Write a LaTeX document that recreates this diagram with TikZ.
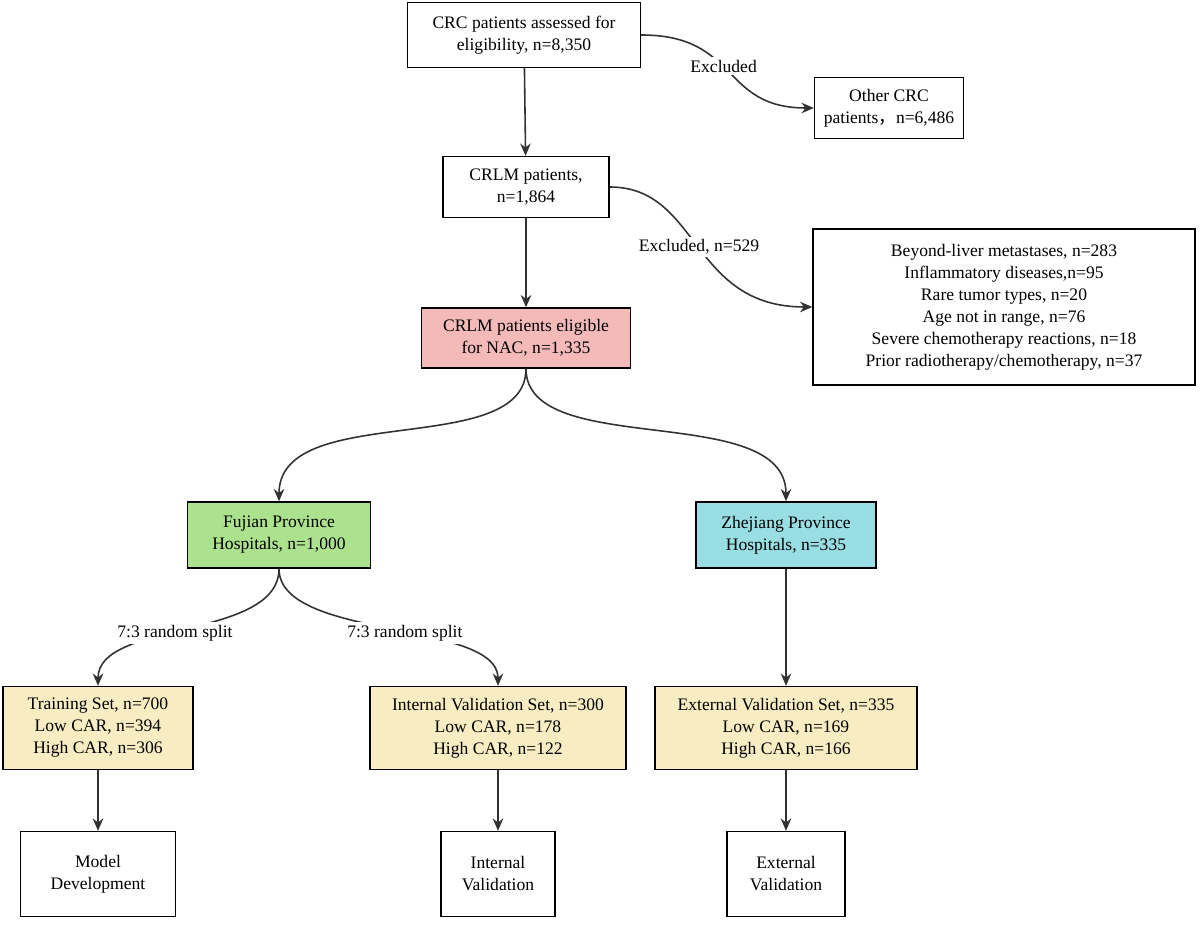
\documentclass[tikz,border=0pt]{standalone}
\usepackage{fontspec}
\setmainfont{Liberation Serif}
\newfontfamily\cjk{Noto Sans CJK SC}
\usetikzlibrary{arrows.meta}
\definecolor{nacpink}{RGB}{244,186,186}
\definecolor{fjgreen}{RGB}{172,226,142}
\definecolor{zjcyan}{RGB}{152,222,226}
\definecolor{setyellow}{RGB}{248,237,194}
\definecolor{linegray}{RGB}{50,50,50}

\tikzset{
  box/.style={draw=black,line width=0.8pt,align=center,inner sep=0pt,font=\fontsize{10}{12.5}\selectfont},
  flow/.style={-{Stealth[length=7pt,width=6pt]},line width=0.9pt,draw=linegray},
  lab/.style={fill=white,text=black,inner sep=1.5pt,font=\fontsize{10}{12}\selectfont}
}

\begin{document}
\begin{tikzpicture}[x=0.02cm,y=-0.02cm]
\useasboundingbox (0,0) rectangle (1200,925);

% top part
\node[box,minimum width=233*0.02cm,minimum height=65*0.02cm] (crc) at (524,35) {CRC patients assessed for\\eligibility, n=8,350};
\node[box,minimum width=149*0.02cm,minimum height=61*0.02cm] (other) at (889,108) {Other CRC\\patients{\cjk ，}n=6,486};
\node[box,minimum width=166*0.02cm,minimum height=61*0.02cm] (crlm) at (526,187) {CRLM patients,\\n=1,864};
\node[box,minimum width=382*0.02cm,minimum height=156*0.02cm] (excl) at (1004,307) {Beyond-liver metastases, n=283\\Inflammatory diseases,n=95\\Rare tumor types, n=20\\Age not in range, n=76\\Severe chemotherapy reactions, n=18\\Prior radiotherapy/chemotherapy, n=37};
\node[box,fill=nacpink,minimum width=209*0.02cm,minimum height=60*0.02cm] (nac) at (526,338) {CRLM patients eligible\\for NAC, n=1,335};

% provinces
\node[box,fill=fjgreen,minimum width=183*0.02cm,minimum height=66*0.02cm] (fujian) at (279,535) {Fujian Province\\Hospitals, n=1,000};
\node[box,fill=zjcyan,minimum width=180*0.02cm,minimum height=66*0.02cm] (zhejiang) at (786,535) {Zhejiang Province\\Hospitals, n=335};

% sets
\node[box,fill=setyellow,minimum width=190*0.02cm,minimum height=83*0.02cm] (train) at (98,728) {Training Set, n=700\\Low CAR, n=394\\High CAR, n=306};
\node[box,fill=setyellow,minimum width=256*0.02cm,minimum height=83*0.02cm] (intset) at (498,728) {Internal Validation Set, n=300\\Low CAR, n=178\\High CAR, n=122};
\node[box,fill=setyellow,minimum width=262*0.02cm,minimum height=83*0.02cm] (extset) at (786,728) {External Validation Set, n=335\\Low CAR, n=169\\High CAR, n=166};

% outcomes
\node[box,minimum width=155*0.02cm,minimum height=85*0.02cm] (model) at (98,874) {Model\\Development};
\node[box,minimum width=114*0.02cm,minimum height=85*0.02cm] (intval) at (498,874) {Internal\\Validation};
\node[box,minimum width=118*0.02cm,minimum height=85*0.02cm] (extval) at (786,874) {External\\Validation};

% arrows
\draw[flow] (crc) -- (crlm);
\draw[flow] (crlm) -- (nac);
\draw[flow] (crc.east) .. controls (740,35) and (720,108) .. node[lab,pos=0.45] {Excluded} (other.west);
\draw[flow] (crlm.east) .. controls (700,187) and (690,307) .. node[lab,pos=0.5] {Excluded, n=529} (excl.west);
\draw[flow] (nac.south) .. controls (526,460) and (279,400) .. (fujian.north);
\draw[flow] (nac.south) .. controls (526,460) and (786,400) .. (zhejiang.north);
\draw[flow] (fujian.south) .. controls (279,640) and (98,620) .. node[lab,pos=0.55] {7:3 random split} (train.north);
\draw[flow] (fujian.south) .. controls (279,640) and (498,620) .. node[lab,pos=0.55] {7:3 random split} (intset.north);
\draw[flow] (zhejiang) -- (extset);
\draw[flow] (train) -- (model);
\draw[flow] (intset) -- (intval);
\draw[flow] (extset) -- (extval);
\end{tikzpicture}
\end{document}
